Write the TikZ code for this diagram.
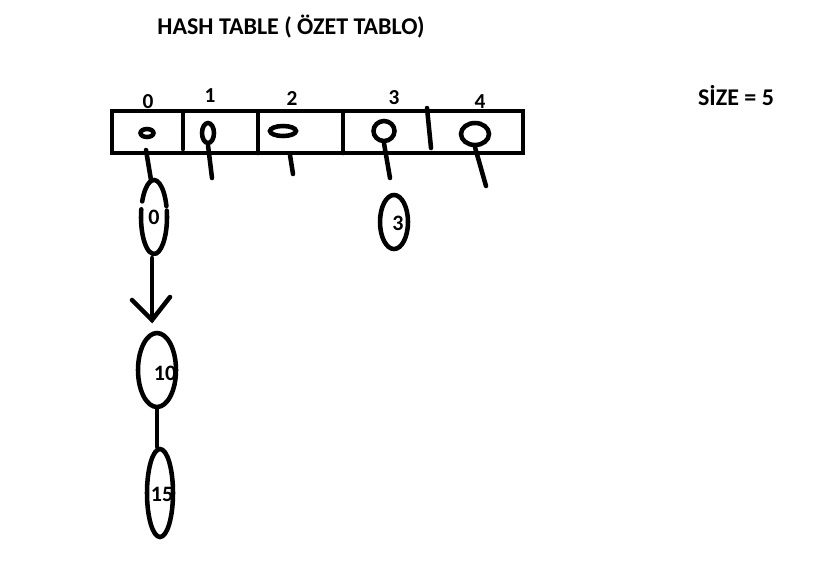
\documentclass[tikz,border=0pt]{standalone}
\usepackage{fontspec}
\setmainfont{Carlito}
\usetikzlibrary{shapes.geometric}
\begin{document}
\begin{tikzpicture}[x=0.75pt,y=-0.75pt,
  pen/.style={line width=3.4pt,line cap=round,black},
  bigtxt/.style={font=\bfseries\fontsize{18}{20}\selectfont,inner sep=0pt},
  idx/.style={font=\bfseries\fontsize{16}{18}\selectfont,inner sep=0pt},
  oval/.style={ellipse,pen,inner sep=0pt},
  val/.style={font=\bfseries\fontsize{16.5}{18}\selectfont,inner sep=0pt}]
\useasboundingbox (0,0) rectangle (837,569);
% texts
\node[bigtxt] (title) at (291,27) {HASH TABLE ( ÖZET TABLO)};
\node[bigtxt] (size) at (736,96) {SİZE = 5};
\node[idx] (i0) at (148,102) {0};
\node[idx] (i1) at (210,96) {1};
\node[idx] (i2) at (292,98) {2};
\node[idx] (i3) at (394,98) {3};
\node[idx] (i4) at (480,102) {4};
% table
\node[pen,draw,rectangle,minimum width=411*0.75pt,minimum height=42*0.75pt,inner sep=0pt] (table) at (317.5,132) {};
\coordinate (d1a) at (183,112); \coordinate (d1b) at (183,149);
\coordinate (d2a) at (258,112); \coordinate (d2b) at (258,153);
\coordinate (d3a) at (343,112); \coordinate (d3b) at (343,153);
\coordinate (d4a) at (427,108); \coordinate (d4b) at (431,148);
\draw[pen] (d1a) -- (d1b);
\draw[pen] (d2a) -- (d2b);
\draw[pen] (d3a) -- (d3b);
\draw[pen] (d4a) -- (d4b);
% small cell shapes
\node[oval,draw,minimum width=13*0.75pt,minimum height=8*0.75pt] (c0) at (147,133) {};
\node[oval,draw,minimum width=12*0.75pt,minimum height=20*0.75pt] (c1) at (208,133) {};
\node[oval,draw,minimum width=26*0.75pt,minimum height=10*0.75pt] (c2) at (283,131) {};
\node[oval,draw,minimum width=21*0.75pt,minimum height=20*0.75pt] (c3) at (384,131) {};
\node[oval,draw,minimum width=28*0.75pt,minimum height=22*0.75pt] (c4) at (475,134) {};
% stems
\coordinate (s0a) at (146,150);
\coordinate (s1) at (212,178);
\coordinate (s2a) at (290,155); \coordinate (s2) at (293,174);
\coordinate (s4) at (486,186);
\coordinate (s3) at (390,178);
\draw[pen] (s0a) -- (151,180);
\draw[pen] (c1.south) -- (s1);
\draw[pen] (s2a) -- (s2);
\draw[pen] (c3.south) -- (s3);
\draw[pen] (c4.south) -- (s4);
% chain nodes
\node[val] (v0) at (154,217) {0};
\draw[pen] (154,217) ++(-10:13 and 37) arc[start angle=-10,end angle=192,x radius=13,y radius=37];
\draw[pen] (154,217) ++(205:13 and 37) arc[start angle=205,end angle=343,x radius=13,y radius=37];
\coordinate (e0b) at (152,258);
\coordinate (e10t) at (152,320);
\draw[pen] (e0b) -- (e10t);
\draw[pen] (132,300) -- (e10t) -- (170,297);
\node[oval,draw,minimum width=38*0.75pt,minimum height=74*0.75pt] (n10) at (157,370) {};
\node[val] (t10) at (165,373) {10};
\node[oval,draw,minimum width=26*0.75pt,minimum height=88*0.75pt] (n15) at (160,493) {};
\node[val] (t15) at (162,494) {15};
\draw[pen] (n10.south) -- (n10.south |- n15.north);
\node[oval,draw,minimum width=28*0.75pt,minimum height=54*0.75pt] (n3) at (394,222) {};
\node[val] (t3) at (398,223) {3};
\end{tikzpicture}
\end{document}
